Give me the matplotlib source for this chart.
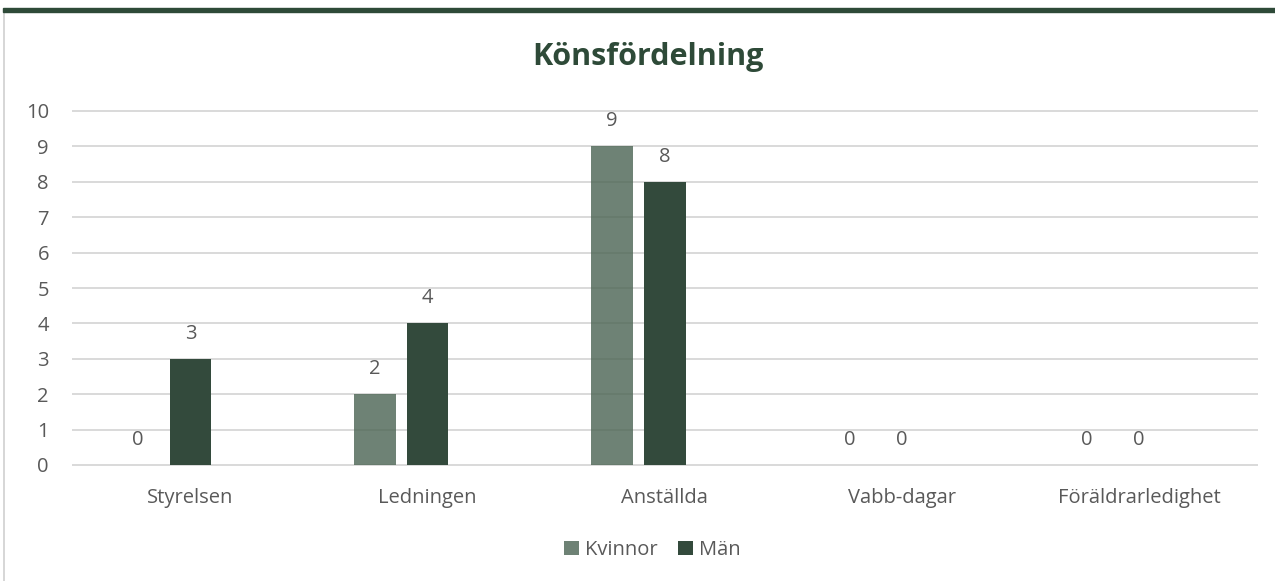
import numpy as np
import matplotlib.pyplot as plt
from matplotlib.patches import Rectangle

plt.rcParams['font.family'] = ['Open Sans', 'DejaVu Sans']

# --- data ---
CATEGORIES = ["Styrelsen", "Ledningen", "Anställda", "Vabb-dagar", "Föräldrarledighet"]
KVINNOR = [0, 2, 9, 0, 0]
MAN = [3, 4, 8, 0, 0]
SERIES_NAMES = ["Kvinnor", "Män"]

C_KVINNOR = '#4a6352'
C_MAN = '#334a3c'
C_TITLE = '#2e4a38'
C_TEXT = '#595959'
FS = 14.5

W, H = 1275, 581
fig = plt.figure(figsize=(W / 100, H / 100), dpi=100)
# plot area in pixels: x 45.5..1231.5, y 111..465
ax = fig.add_axes([45.5 / W, 1 - 465 / H, 1186 / W, 354 / H])

x = np.arange(len(CATEGORIES))
w = 0.175
off = 0.111
b1 = ax.bar(x - off, KVINNOR, w, color=C_KVINNOR, alpha=0.8, label=SERIES_NAMES[0], zorder=3)
b2 = ax.bar(x + off, MAN, w, color=C_MAN, label=SERIES_NAMES[1], zorder=3)

for bars in (b1, b2):
    for rect in bars:
        h = rect.get_height()
        ax.annotate(f"{int(h)}", (rect.get_x() + rect.get_width() / 2, h),
                    xytext=(0, 18), textcoords='offset points', ha='center', va='center',
                    fontsize=FS, color=C_TEXT)

ax.set_xlim(-0.5, len(CATEGORIES) - 0.5)
ax.set_ylim(0, 10)
ax.set_yticks(range(0, 11))
# category labels sit a little right of the bar groups, as in the source
ax.set_xticks(x + off)
ax.set_xticklabels(CATEGORIES)
ax.tick_params(axis='both', length=0, labelsize=FS, colors=C_TEXT)
ax.tick_params(axis='x', pad=16.5)
ax.tick_params(axis='y', pad=-2.5)

# gridlines run from x=72px to x=1258px
gx0 = (72 - 45.5) / 237.2 - 0.5
gx1 = (1258 - 45.5) / 237.2 - 0.5
ax.hlines(range(0, 11), gx0, gx1, color='#d9d9d9', lw=1.4, zorder=0, clip_on=False)
for s in ax.spines.values():
    s.set_visible(False)

fig.text(648 / W, 1 - 57 / H, "Könsfördelning", ha='center', va='center', fontsize=22,
         fontweight='bold', color=C_TITLE)

fig.legend(loc='center', bbox_to_anchor=(652 / W, 1 - 550 / H), ncol=2, frameon=False,
           fontsize=FS, handlelength=0.75, handleheight=0.75, handletextpad=0.3,
           columnspacing=1.0, labelcolor=C_TEXT)

# frame pieces from the surrounding page
fig.patches.append(Rectangle((3 / W, 1 - 12 / H), 1, 4 / H, transform=fig.transFigure,
                             color=C_TITLE, zorder=5))
fig.lines.append(plt.Line2D([3.5 / W, 3.5 / W], [0, 1 - 12 / H], transform=fig.transFigure,
                            color='#d0d0d0', lw=1.2))
# tail of a heading letter from the page above, only its bottom edge shows
fig.text(695 / W, 1 + 12 / H, "g", ha='center', va='baseline', fontsize=36,
         fontweight='bold', color=C_TITLE)

fig.savefig("out.png", dpi=100)
